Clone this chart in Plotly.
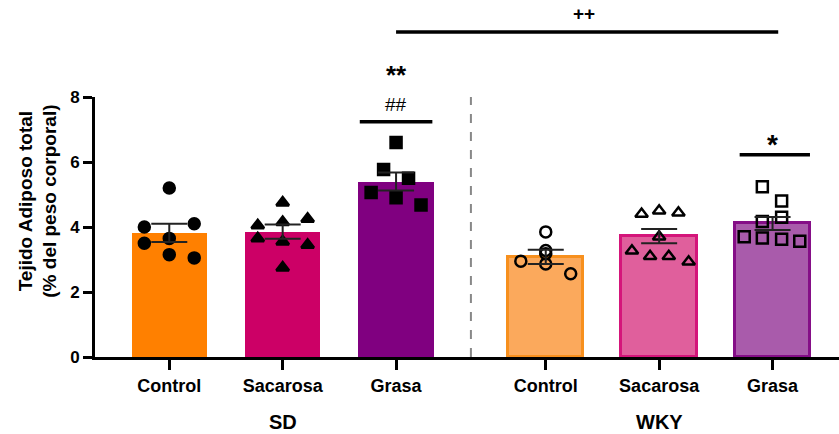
import plotly.graph_objects as go

# ---- data ----
groups = ["SD", "SD", "SD", "WKY", "WKY", "WKY"]
diets = ["Control", "Sacarosa", "Grasa", "Control", "Sacarosa", "Grasa"]
means = [3.82, 3.86, 5.40, 3.08, 3.72, 4.11]
sems = [0.28, 0.22, 0.28, 0.22, 0.22, 0.20]

sd_control = [5.2, 4.0, 4.1, 3.5, 3.65, 3.15, 3.05]
sd_sacarosa = [4.75, 4.05, 4.15, 4.25, 3.65, 3.55, 3.45, 2.75]
sd_grasa = [6.6, 5.77, 5.5, 5.06, 4.9, 4.68]
wky_control = [3.85, 3.28, 3.18, 2.95, 2.86, 2.56]
wky_sacarosa = [4.4, 4.5, 4.44, 3.7, 3.27, 3.1, 3.1, 2.93]
wky_grasa = [5.24, 4.8, 4.3, 4.17, 3.7, 3.66, 3.62, 3.56]
points = [sd_control, sd_sacarosa, sd_grasa, wky_control, wky_sacarosa, wky_grasa]

yticks = [0, 2, 4, 6, 8]
ytitle = "Tejido Adiposo total<br>(% del peso corporal)"

# ---- layout / style (not data) ----
xpos = [0, 1, 2, 3.32, 4.32, 5.32]
jitter = [
    [0, -0.22, 0.22, -0.22, 0, 0, 0.22],
    [0, -0.22, 0, 0.22, -0.22, 0, 0.22, 0],
    [0, -0.11, 0.11, -0.22, 0, 0.22],
    [0, 0, 0, -0.22, 0, 0.22],
    [-0.155, 0, 0.17, 0, -0.24, -0.08, 0.085, 0.26],
    [-0.09, 0.08, 0.08, -0.09, -0.25, -0.09, 0.08, 0.24],
]
fills = ["#FF8000", "#CC0066", "#800080", "#FBA95C", "#E05F9C", "#A95BAB"]
outlines = ["#FF8000", "#CC0066", "#800080", "#F7901E", "#D4157A", "#850E87"]
symbols = ["circle", "triangle-up", "square", "circle-open", "triangle-up-open", "square-open"]
FONT = "Liberation Sans, Arial, sans-serif"

fig = go.Figure()
fig.add_trace(go.Bar(
    x=xpos, y=means, width=0.665,
    marker=dict(color=fills, line=dict(color=outlines, width=[0, 0, 0, 3, 3, 3])),
    showlegend=False,
))
for i in range(6):
    fig.add_trace(go.Scatter(
        x=[xpos[i] + j for j in jitter[i]], y=points[i], mode="markers",
        marker=dict(symbol=symbols[i], size=11, color="black",
                    line=dict(color="black", width=2.5)),
        showlegend=False, cliponaxis=False,
    ))
fig.add_trace(go.Scatter(
    x=xpos, y=means, mode="markers",
    marker=dict(size=0.1, color="rgba(0,0,0,0)"),
    error_y=dict(type="data", array=sems, color="#222", thickness=2, width=18),
    showlegend=False,
))

ymax = yticks[-1]
def py(v):
    return v / ymax

shapes = [
    dict(type="line", xref="x", yref="paper", x0=2.66, x1=2.66, y0=0, y1=1,
         line=dict(color="#888888", width=2, dash="dash")),
    dict(type="line", xref="x", yref="paper", x0=xpos[2] - 0.32, x1=xpos[2] + 0.32,
         y0=py(7.24), y1=py(7.24), line=dict(color="black", width=3.5)),
    dict(type="line", xref="x", yref="paper", x0=xpos[5] - 0.29, x1=xpos[5] + 0.33,
         y0=py(6.22), y1=py(6.22), line=dict(color="black", width=3.5)),
    dict(type="line", xref="x", yref="paper", x0=xpos[2], x1=xpos[5] + 0.05,
         y0=py(10.0), y1=py(10.0), line=dict(color="black", width=3.5)),
]
annotations = [
    dict(x=xpos[2], y=py(8.68), xref="x", yref="paper", text="<b>**</b>", showarrow=False,
         yanchor="middle", font=dict(size=26, family=FONT, color="black")),
    dict(x=xpos[2], y=py(7.78), xref="x", yref="paper", text="##", showarrow=False,
         yanchor="middle", font=dict(size=19, family=FONT, color="black")),
    dict(x=xpos[5], y=py(6.55), xref="x", yref="paper", text="<b>*</b>", showarrow=False,
         yanchor="middle", font=dict(size=28, family=FONT, color="black")),
    dict(x=(xpos[2] + xpos[5]) / 2, y=py(10.58), xref="x", yref="paper", text="<b>++</b>",
         showarrow=False, yanchor="middle", font=dict(size=19, family=FONT, color="black")),
    dict(x=xpos[1], y=-0.25, xref="x", yref="paper", text="<b>SD</b>", showarrow=False,
         yanchor="middle", font=dict(size=20, family=FONT, color="black")),
    dict(x=xpos[4], y=-0.25, xref="x", yref="paper", text="<b>WKY</b>", showarrow=False,
         yanchor="middle", font=dict(size=20, family=FONT, color="black")),
    dict(x=-0.077, y=0.6, xref="paper", yref="paper", text="<b>" + ytitle + "</b>",
         textangle=-90, showarrow=False, xanchor="center", yanchor="middle",
         font=dict(size=19, family=FONT, color="black")),
]

fig.update_layout(
    width=839, height=434,
    margin=dict(l=95, r=0, t=97, b=77),
    paper_bgcolor="white", plot_bgcolor="white",
    shapes=shapes, annotations=annotations,
    font=dict(family=FONT, color="black"),
    bargap=0,
)
fig.update_xaxes(
    range=[-0.655, 5.906], tickvals=xpos, ticktext=["<b>%s</b>" % d for d in diets],
    showgrid=False, zeroline=False, showline=True, linecolor="black", linewidth=3,
    ticks="outside", ticklen=10, tickwidth=3, tickcolor="black",
    tickfont=dict(size=18, family=FONT, color="black"),
)
fig.update_yaxes(
    range=[0, ymax], tickvals=yticks, ticktext=["<b>%d</b>" % t for t in yticks],
    showgrid=False, zeroline=False, showline=True, linecolor="black", linewidth=3,
    ticks="outside", ticklen=9, tickwidth=3, tickcolor="black",
    tickfont=dict(size=17, family=FONT, color="black"),
)

fig.write_html("out.html")
